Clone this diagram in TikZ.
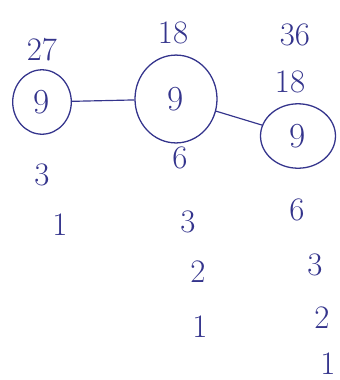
\documentclass[tikz,border=0pt]{standalone}
\usepackage{xcolor}
\definecolor{ink}{RGB}{52,52,140}
\usetikzlibrary{shapes.geometric}

\begin{document}
\begin{tikzpicture}[x=0.03cm, y=-0.03cm,
  vnode/.style={ellipse, draw=ink, line width=1.1pt, inner sep=0pt,
                font=\fontsize{30}{34}\selectfont, text=ink},
  num/.style={font=\fontsize{28}{32}\selectfont, text=ink, inner sep=0pt},
  link/.style={draw=ink, line width=1pt}
]
\useasboundingbox (0,0) rectangle (340,380);

% Vertices
\node[vnode, minimum width=50, minimum height=55] (lft) at (42,102)  {9};
\node[vnode, minimum width=70, minimum height=75] (mid) at (176,99)  {9};
\node[vnode, minimum width=64, minimum height=55] (rgt) at (298,136) {9};

% Edges
\draw[link] (lft) -- (mid);
\draw[link] (mid) -- (rgt);

% Left column
\node[num] (a27) at (42,50)  {27};
\node[num] (a3)  at (42,175) {3};
\node[num] (a1)  at (60,225) {1};

% Middle column
\node[num] (b18) at (173,33)  {18};
\node[num] (b6)  at (180,158) {6};
\node[num] (b3)  at (188,222) {3};
\node[num] (b2)  at (198,272) {2};
\node[num] (b1)  at (200,327) {1};

% Right column
\node[num] (c36) at (295,35)  {36};
\node[num] (c18) at (290,82)  {18};
\node[num] (c6)  at (297,210) {6};
\node[num] (c3)  at (315,265) {3};
\node[num] (c2)  at (322,318) {2};
\node[num] (c1)  at (328,364) {1};
\end{tikzpicture}
\end{document}
